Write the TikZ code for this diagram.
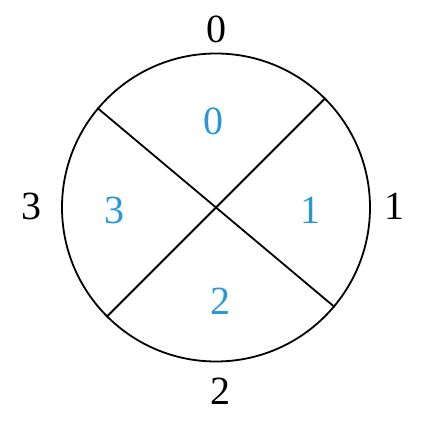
\documentclass[tikz,border=0pt]{standalone}
\usepackage{fontspec}
\setmainfont{Liberation Serif}
\usepackage{tikz}
\usetikzlibrary{positioning}
\definecolor{secblue}{RGB}{42,150,218}

\begin{document}
\begin{tikzpicture}[x=1pt,y=1pt,line width=1.8pt,
                    ring/.style={circle,draw,minimum size=308pt,inner sep=0pt},
                    outer label/.style={font=\fontsize{40}{42}\selectfont},
                    sector label/.style={font=\fontsize{40}{42}\selectfont,text=secblue}]
  \useasboundingbox (-216,-220.5) rectangle (213,207.5);

  \node[ring] (c) at (0,0) {};
  \draw (c.140) -- (c.-40);
  \draw (c.45) -- (c.225);

  % outside numbers
  \node[outer label] (o0) at (0.5,178) {0};
  \node[outer label] (o1) at (179,1) {1};
  \node[outer label] (o2) at (5,-183.5) {2};
  \node[outer label] (o3) at (-184,1) {3};

  % sector numbers
  \node[sector label] (s0) at (-2,86) {0};
  \node[sector label] (s1) at (95,-2.5) {1};
  \node[sector label] (s2) at (5,-93.5) {2};
  \node[sector label] (s3) at (-101.5,-2.5) {3};
\end{tikzpicture}
\end{document}
